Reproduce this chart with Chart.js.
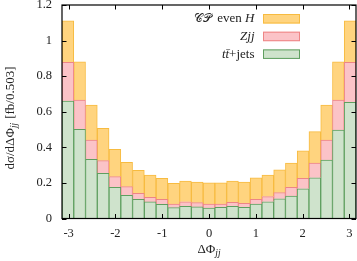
<!DOCTYPE html>
<html><head><meta charset="utf-8">
<script src="https://cdn.jsdelivr.net/npm/chart.js@4.4.1/dist/chart.umd.min.js"></script>
<style>html,body{margin:0;padding:0;background:#fff;}canvas{display:block;}</style>
</head><body>
<canvas id="c" width="357" height="261"></canvas>
<script>
// ---- data (per-series contributions of the stack) ----
const nBins = 25;
const binWidth = 2 * Math.PI / nBins;
const binCenters = Array.from({length: nBins}, (_, i) => -Math.PI + (i + 0.5) * binWidth);
const ttbarJets = [0.660,0.501,0.333,0.254,0.175,0.130,0.108,0.093,0.080,0.061,0.068,0.065,0.059,0.063,0.068,0.063,0.081,0.094,0.111,0.126,0.167,0.229,0.329,0.497,0.653];
const zjj       = [0.218,0.165,0.108,0.071,0.060,0.049,0.034,0.026,0.028,0.020,0.026,0.024,0.022,0.018,0.023,0.022,0.027,0.029,0.034,0.049,0.059,0.083,0.112,0.169,0.225];
const cpEvenH   = [0.233,0.215,0.197,0.182,0.154,0.137,0.129,0.125,0.118,0.117,0.117,0.116,0.120,0.120,0.120,0.120,0.121,0.121,0.129,0.137,0.155,0.176,0.197,0.215,0.233];
const xTicks = [-3, -2, -1, 0, 1, 2, 3];
const yTicks = [0, 0.2, 0.4, 0.6, 0.8, 1.0, 1.2];
const seriesNames = ['tt̄+jets', 'Zjj', '𝒞𝒫 even H'];

const SERIF = "'Liberation Serif', 'DejaVu Serif', serif";
const fills = ['#cfe3cc', '#fbc3c7', '#ffd47f'];
const borders = ['#5f9f5f', '#ee8585', '#f7bb40'];

function mk(values, k) {
  return {
    label: seriesNames[k],
    data: binCenters.map((x, i) => ({x: x, y: values[i]})),
    backgroundColor: fills[k],
    borderColor: borders[k],
    borderWidth: 1,
    borderSkipped: 'start',
    barPercentage: 1.0,
    categoryPercentage: 1.0
  };
}

function drawRich(ctx, segs, x, y, align) {
  let total = 0;
  segs.forEach(s => { ctx.font = s.font; s.w = ctx.measureText(s.t).width + (s.gap || 0); total += s.w; });
  let cx = align === 'right' ? x - total : (align === 'center' ? x - total / 2 : x);
  ctx.textAlign = 'left';
  ctx.textBaseline = 'alphabetic';
  segs.forEach(s => { ctx.font = s.font; ctx.fillText(s.t, cx, y + (s.dy || 0)); cx += s.w; });
}

const decor = {
  id: 'decor',
  afterDraw(chart) {
    const ctx = chart.ctx, a = chart.chartArea;
    const xs = chart.scales.x, ys = chart.scales.y;
    ctx.save();
    ctx.strokeStyle = '#000';
    ctx.lineWidth = 1.2;
    ctx.strokeRect(a.left, a.top, a.right - a.left, a.bottom - a.top);
    ctx.lineWidth = 1;
    const L = 4.5;
    ctx.beginPath();
    yTicks.forEach(v => {
      const p = Math.round(ys.getPixelForValue(v)) + 0.5;
      ctx.moveTo(a.left, p); ctx.lineTo(a.left + L, p);
      ctx.moveTo(a.right, p); ctx.lineTo(a.right - L, p);
    });
    xTicks.forEach(v => {
      const p = Math.round(xs.getPixelForValue(v)) + 0.5;
      ctx.moveTo(p, a.bottom); ctx.lineTo(p, a.bottom - L);
      ctx.moveTo(p, a.top); ctx.lineTo(p, a.top + L);
    });
    ctx.stroke();

    // legend
    const rows = [
      {k: 2, segs: [{t: '𝒞𝒫', font: '11.5px ' + SERIF, gap: 5}, {t: 'even ', font: '13px ' + SERIF}, {t: 'H', font: 'italic 13px ' + SERIF}]},
      {k: 1, segs: [{t: 'Zjj', font: 'italic 13px ' + SERIF}]},
      {k: 0, segs: [{t: 'tt̄', font: 'italic 13px ' + SERIF}, {t: '+jets', font: '13px ' + SERIF}]}
    ];
    rows.forEach((r, i) => {
      const base = 22.3 + i * 17.7;
      ctx.fillStyle = '#222';
      drawRich(ctx, r.segs, 254.5, base, 'right');
      const bx = 263, by = base - 8.3, bw = 37, bh = 9.5;
      ctx.fillStyle = fills[r.k];
      ctx.fillRect(bx, by, bw, bh);
      ctx.strokeStyle = borders[r.k];
      ctx.lineWidth = 1;
      ctx.strokeRect(bx + 0.5, by + 0.5, bw - 1, bh - 1);
    });

    // axis titles
    ctx.fillStyle = '#222';
    drawRich(ctx, [
      {t: 'ΔΦ', font: '13px ' + SERIF},
      {t: 'jj', font: 'italic 9.5px ' + SERIF, dy: 3}
    ], (a.left + a.right) / 2, 253, 'center');

    ctx.translate(14, 118);
    ctx.rotate(-Math.PI / 2);
    drawRich(ctx, [
      {t: 'dσ/dΔΦ', font: '13px ' + SERIF},
      {t: 'jj', font: 'italic 9.5px ' + SERIF, dy: 3, gap: 4},
      {t: '[fb/0.503]', font: '13px ' + SERIF}
    ], 0, 0, 'center');
    ctx.restore();
  }
};

new Chart(document.getElementById('c'), {
  type: 'bar',
  data: { datasets: [mk(ttbarJets, 0), mk(zjj, 1), mk(cpEvenH, 2)] },
  options: {
    responsive: false,
    devicePixelRatio: 1,
    animation: false,
    layout: { padding: { top: 5, right: 1, left: 0, bottom: 0 } },
    plugins: { legend: { display: false }, tooltip: { enabled: false } },
    scales: {
      x: {
        type: 'linear', min: -Math.PI, max: Math.PI, offset: false, stacked: true,
        grid: { display: false, drawTicks: false }, border: { display: false },
        afterBuildTicks: s => { s.ticks = xTicks.map(v => ({value: v})); },
        afterFit: s => { s.height = 42.5; s.paddingLeft = 0; s.paddingRight = 0; },
        ticks: { padding: 8, color: '#222', font: { family: SERIF, size: 12.5 }, maxRotation: 0, autoSkip: false,
                 callback: v => String(v) }
      },
      y: {
        min: 0, max: 1.2, stacked: true,
        grid: { display: false, drawTicks: false }, border: { display: false },
        afterBuildTicks: s => { s.ticks = yTicks.map(v => ({value: v})); },
        afterFit: s => { s.width = 62; s.paddingTop = 0; s.paddingBottom = 0; },
        ticks: { padding: 10, color: '#222', font: { family: SERIF, size: 12.5 }, autoSkip: false,
                 callback: v => String(Math.round(v * 10) / 10) }
      }
    }
  },
  plugins: [decor]
});
</script>
</body></html>
